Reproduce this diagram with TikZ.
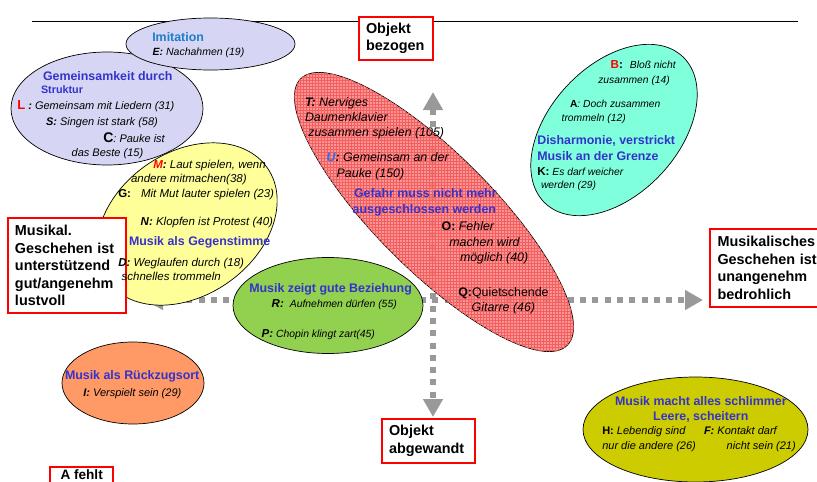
\documentclass[tikz,border=0pt]{standalone}
\usepackage{fontspec}
\setmainfont{Liberation Sans}
\usetikzlibrary{shapes.geometric,arrows.meta,patterns}
\definecolor{hdblue}{RGB}{51,51,204}
\definecolor{imitblue}{RGB}{30,125,200}
\definecolor{ublue}{RGB}{40,110,240}
\definecolor{lav}{RGB}{214,214,244}
\definecolor{aqua}{RGB}{128,255,220}
\definecolor{yel}{RGB}{255,255,153}
\definecolor{grn}{RGB}{146,208,80}
\definecolor{orng}{RGB}{255,153,102}
\definecolor{oliv}{RGB}{204,204,0}
\definecolor{redfill}{RGB}{255,125,125}
\definecolor{redgrid}{RGB}{242,95,95}
\definecolor{boxred}{RGB}{255,0,0}
\definecolor{axgrey}{RGB}{153,153,153}
\begin{document}
\begin{tikzpicture}[x=1pt,y=-1pt,inner sep=0pt,outer sep=0pt,
blob/.style={draw,ellipse,line width=0.7pt},
axbox/.style={draw=boxred,line width=2pt,fill=white,rectangle,align=left,inner xsep=7pt,font=\fontsize{14.4}{17.5}\selectfont\bfseries},
axis/.style={draw=axgrey,line width=6pt,dash pattern=on 6pt off 6.3pt,{Triangle[length=18pt,width=19pt]}-{Triangle[length=18pt,width=19pt]}},
hd/.style={anchor=base west,text=hdblue,font=\fontsize{12.4}{14}\selectfont\bfseries},
tx/.style={anchor=base west,font=\fontsize{#1}{14}\selectfont\itshape}]

\useasboundingbox (0,0) rectangle (817,482);
\draw[line width=1pt] (32,21) -- (798,21);

% blobs
\draw (107,108.5) node[blob,fill=lav,minimum width=192,minimum height=113] (gem) {};
\draw (210.5,44) node[blob,fill=lav,minimum width=169,minimum height=52] (imit) {};
\draw (614,130) node[blob,fill=aqua,minimum width=201,minimum height=129,rotate=47] (dish) {};

% axes
\coordinate (xl) at (145,300);
\coordinate (xr) at (703,300);
\coordinate (yt) at (433,92);
\coordinate (yb) at (433,417);
\draw[axis] (xl) -- (xr);
\draw[axis] (yt) -- (yb);

\draw (434,212) node[blob,fill=redfill,fill opacity=0.82,postaction={pattern=grid,pattern color=redgrid},minimum width=377,minimum height=117,rotate=-45] (gefahr) {};
\draw (187,224) node[blob,fill=yel,minimum width=196,minimum height=143,rotate=35] (gegen) {};
\draw (328,305.5) node[blob,fill=grn,minimum width=190,minimum height=96] (bez) {};
\draw (133,383) node[blob,fill=orng,minimum width=142,minimum height=82] (rueck) {};
\draw (695.5,429.5) node[blob,fill=oliv,minimum width=225,minimum height=105] (schlimm) {};

% boxes
\draw (396,38.5) node[axbox,minimum width=74,minimum height=43,text width=60] (bezogen) {Objekt\\bezogen};
\draw (67,265.5) node[axbox,minimum width=118,minimum height=95,text width=104] (gut) {Musikal.\\Geschehen ist\\unterstützend\\gut/angenehm\\lustvoll};
\draw (772.5,268) node[axbox,minimum width=125,minimum height=78,text width=110] (bedroh) {Musikalisches\\Geschehen ist\\unangenehm\\bedrohlich};
\draw (428.5,441) node[axbox,minimum width=93,minimum height=44,text width=79] (abgew) {Objekt\\abgewandt};
\draw (50,467) node[axbox,anchor=north west,inner xsep=10.5pt,inner ysep=2.5pt,text depth=20pt,font=\fontsize{13.6}{16}\selectfont\bfseries] (fehlt) {A fehlt};

% Imitation
\draw (152.3,41.7) node[hd,text=imitblue] (imitH) {Imitation};
\draw (152.7,55.7) node[tx=10.5] (imitE) {\textbf{E:} Nachahmen (19)};

% Gemeinsamkeit
\draw (43,80.7) node[hd] (gemH1) {Gemeinsamkeit durch};
\draw (41,93.3) node[hd,font=\fontsize{10.8}{12}\selectfont\bfseries] (gemH2) {Struktur};
\draw (17.3,109.3) node[tx=11] (gemL) {{\upshape\bfseries\fontsize{13}{14}\selectfont\textcolor{red}{L}}\textbf{ :} Gemeinsam mit Liedern (31)};
\draw (46,125) node[tx=11] (gemS) {\textbf{S:} Singen ist stark (58)};
\draw (103.3,142.7) node[tx=11] (gemC) {{\upshape\bfseries\fontsize{14}{14}\selectfont C}: Pauke ist};
\draw (71.7,156.7) node[tx=11] (gemC2) {das Beste (15)};

% Gegenstimme
\draw (153.3,168.3) node[tx=11.5] (gegM) {\textbf{\textcolor{red}{M}:} Laut spielen, wenn};
\draw (131,182.7) node[tx=11.5] (gegM2) {andere mitmachen(38)};
\draw (118.3,197.3) node[tx=11.5] (gegG) {\textbf{\upshape G:}\hspace{10pt}Mit Mut lauter spielen (23)};
\draw (140.7,225) node[tx=11.5] (gegN) {\textbf{N:} Klopfen ist Protest (40)};
\draw (129,245) node[hd] (gegH) {Musik als Gegenstimme};
\draw (118.3,266.7) node[tx=11.5] (gegD) {\textbf{D:} Weglaufen durch (18)};
\draw (121.7,280) node[tx=11.5] (gegD2) {schnelles trommeln};

% Gefahr
\draw (305,106) node[tx=12.4] (gefT) {\textbf{T:} Nerviges};
\draw (305,121.7) node[tx=12.4] (gefT2) {Daumenklavier};
\draw (308.3,136.7) node[tx=12.4] (gefT3) {zusammen spielen (105)};
\draw (326.7,161.7) node[tx=12.4] (gefU) {\textbf{\textcolor{ublue}{U}:} Gemeinsam an der};
\draw (336.7,177.3) node[tx=12.4] (gefU2) {Pauke (150)};
\draw (354,197.7) node[hd] (gefH1) {Gefahr muss nicht mehr};
\draw (352.7,213.3) node[hd] (gefH2) {ausgeschlossen werden};
\draw (441.7,230.7) node[tx=12.4] (gefO) {\textbf{\upshape O:} Fehler};
\draw (449.3,246) node[tx=12.4] (gefO2) {machen wird};
\draw (460,261) node[tx=12.4] (gefO3) {möglich (40)};
\draw (458.3,296) node[tx=12.4] (gefQ) {\upshape\textbf{Q:}Quietschende};
\draw (471.7,311) node[tx=12.4] (gefQ2) {Gitarre (46)};

% Disharmonie
\draw (610.7,68.3) node[tx=10.3] (disB) {{\upshape\bfseries\fontsize{11.6}{12}\selectfont\textcolor{red}{B}:}\hspace{7pt}Bloß nicht};
\draw (598.3,83.3) node[tx=10.3] (disB2) {zusammen (14)};
\draw (570,107.7) node[tx=10.3] (disA) {\textbf{\upshape A}: Doch zusammen};
\draw (561.7,121.7) node[tx=10.3] (disA2) {trommeln (12)};
\draw (537.3,144.3) node[hd] (disH1) {Disharmonie, verstrickt};
\draw (537.3,160) node[hd] (disH2) {Musik an der Grenze};
\draw (537.3,175) node[tx=10.3] (disK) {{\upshape\bfseries\fontsize{11.6}{12}\selectfont K:} Es darf weicher};
\draw (541,188.3) node[tx=10.3] (disK2) {werden (29)};

% Beziehung
\draw (249.3,292) node[hd] (bezH) {Musik zeigt gute Beziehung};
\draw (271.7,307.5) node[tx=10.4] (bezR) {{\bfseries\fontsize{11.5}{12}\selectfont R:}\hspace{6pt}Aufnehmen dürfen (55)};
\draw (261.7,337) node[tx=10.4] (bezP) {{\bfseries\fontsize{11.5}{12}\selectfont P:} Chopin klingt zart(45)};

% Rueckzugsort
\draw (65,379.3) node[hd] (rueH) {Musik als Rückzugsort};
\draw (83.3,396) node[tx=11] (rueI) {\textbf{I:} Verspielt sein (29)};

% schlimmer
\draw (700.8,405) node[hd,anchor=base] (schH1) {Musik macht alles schlimmer};
\draw (700.8,420) node[hd,anchor=base] (schH2) {Leere, scheitern};
\draw (602.3,434.3) node[tx=11] (schL) {\textbf{\upshape H:} Lebendig sind};
\draw (602.3,449) node[tx=11] (schL2) {nur die andere (26)};
\draw (704,434.3) node[tx=11] (schF) {\textbf{F:} Kontakt darf};
\draw (726.7,449) node[tx=11] (schF2) {nicht sein (21)};
\end{tikzpicture}
\end{document}
